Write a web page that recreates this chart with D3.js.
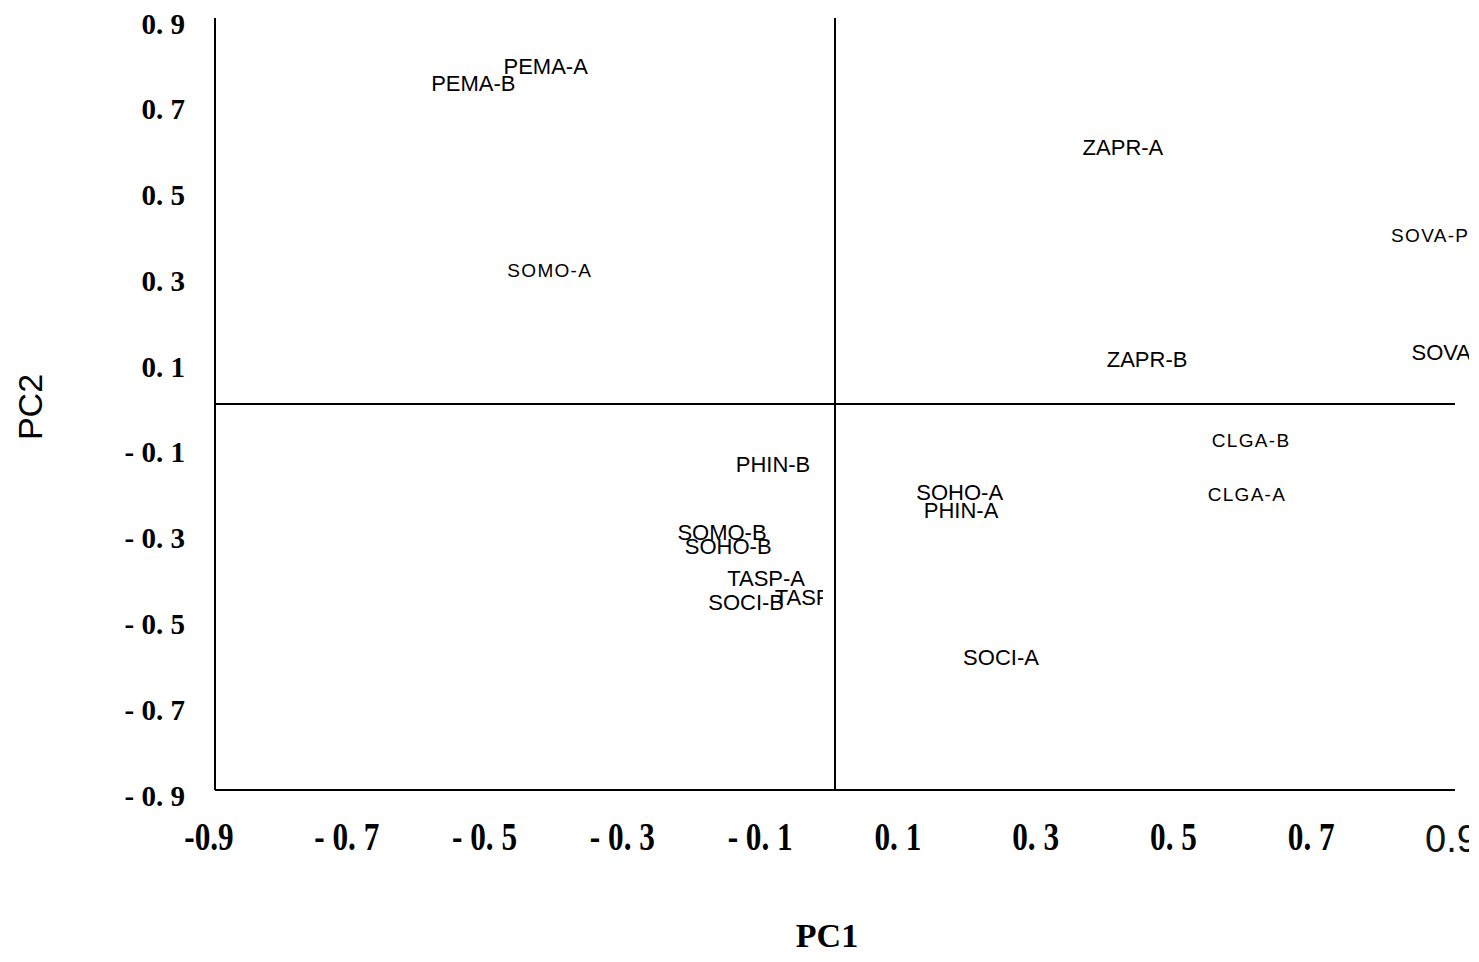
<!DOCTYPE html>
<html>
<head>
<meta charset="utf-8">
<script src="https://cdn.jsdelivr.net/npm/d3@7"></script>
<style>
  html, body { margin: 0; padding: 0; background: #fff; }
  svg { display: block; }
</style>
</head>
<body>
<script>
// PCA score plot: sample codes on PC1 / PC2
const sampleNames = ["PEMA-A", "PEMA-B", "ZAPR-A", "SOVA-P", "SOMO-A", "ZAPR-B", "SOVA-A",
  "CLGA-B", "CLGA-A", "PHIN-B", "SOHO-A", "PHIN-A", "SOMO-B", "SOHO-B",
  "TASP-A", "SOCI-B", "TASP-B", "SOCI-A"];
const pc1Scores = [-0.42, -0.525, 0.418, 0.864, -0.414, 0.453, 0.896,
  0.604, 0.598, -0.09, 0.181, 0.183, -0.164, -0.155,
  -0.10, -0.129, -0.031, 0.241];
const pc2Scores = [0.786, 0.748, 0.597, 0.392, 0.312, 0.103, 0.121,
  -0.084, -0.21, -0.14, -0.207, -0.249, -0.30, -0.333,
  -0.406, -0.462, -0.45, -0.592];

const xTicks = [-0.9, -0.7, -0.5, -0.3, -0.1, 0.1, 0.3, 0.5, 0.7, 0.9];
const xTickLabels = ["-0.9", "- 0. 7", "- 0. 5", "- 0. 3", "- 0. 1", "0. 1", "0. 3", "0. 5", "0. 7", "0.9"];
const yTicks = [0.9, 0.7, 0.5, 0.3, 0.1, -0.1, -0.3, -0.5, -0.7, -0.9];
const yTickLabels = ["0. 9", "0. 7", "0. 5", "0. 3", "0. 1", "- 0. 1", "- 0. 3", "- 0. 5", "- 0. 7", "- 0. 9"];

// labels set in the lighter, letter-spaced face
const spacedLabels = new Set(["SOVA-P", "SOMO-A", "CLGA-B", "CLGA-A"]);

const W = 1469, H = 962;
const svg = d3.select("body").append("svg").attr("width", W).attr("height", H);

const x = d3.scaleLinear().domain([-0.9, 0.9]).range([215, 1455]);
const y = d3.scaleLinear().domain([-0.9, 0.9]).range([790, 18]);

const serif = "'Liberation Serif', 'Times New Roman', serif";
const sans = "'Liberation Sans', Arial, sans-serif";

// frame lines: left and bottom edges plus the zero cross
const lineG = svg.append("g").attr("stroke", "#000").attr("stroke-width", 2);
lineG.append("line").attr("x1", x(-0.9)).attr("x2", x(-0.9)).attr("y1", y(0.9)).attr("y2", y(-0.9));
lineG.append("line").attr("x1", x(-0.9)).attr("x2", x(0.9)).attr("y1", y(-0.9)).attr("y2", y(-0.9));
lineG.append("line").attr("x1", x(0)).attr("x2", x(0)).attr("y1", y(0.9)).attr("y2", y(-0.9));
lineG.append("line").attr("x1", x(-0.9)).attr("x2", x(0.9)).attr("y1", y(0)).attr("y2", y(0));

// y axis tick labels
const yAxis = svg.append("g")
  .attr("transform", `translate(${x(-0.9)},0)`)
  .call(d3.axisLeft(y).tickValues(yTicks).tickSize(0)
    .tickFormat((d, i) => yTickLabels[i]));
yAxis.select(".domain").remove();
yAxis.selectAll("text")
  .attr("x", -30)
  .attr("dy", null)
  .attr("y", 15)
  .attr("fill", "#000")
  .style("font-family", serif)
  .style("font-weight", "bold")
  .style("font-size", "29px")
  .attr("text-anchor", "end");

// x axis tick labels
const xAxis = svg.append("g")
  .attr("transform", `translate(0,${y(-0.9)})`)
  .call(d3.axisBottom(x).tickValues(xTicks).tickSize(0)
    .tickFormat((d, i) => xTickLabels[i]));
xAxis.select(".domain").remove();
xAxis.selectAll(".tick").attr("transform", d => `translate(${x(d) - 6},0)`);
xAxis.selectAll("text")
  .attr("dy", null)
  .attr("y", 60)
  .attr("fill", "#000")
  .attr("text-anchor", "middle")
  .style("font-family", serif)
  .style("font-weight", "bold")
  .style("font-size", "40px")
  .attr("transform", "scale(0.78,1)");
xAxis.selectAll("text").filter((d, i) => i === xTicks.length - 1)
  .attr("transform", null)
  .attr("text-anchor", "start")
  .attr("x", -24)
  .attr("y", 62)
  .attr("fill", "#111")
  .style("font-family", sans)
  .style("font-weight", "normal")
  .style("font-size", "38px");

// axis titles
svg.append("text")
  .attr("x", 827).attr("y", 947)
  .attr("text-anchor", "middle")
  .style("font-family", serif).style("font-weight", "bold").style("font-size", "34px")
  .text("PC1");
svg.append("text")
  .attr("transform", `translate(42,${y(0) + 3}) rotate(-90)`)
  .attr("text-anchor", "middle")
  .style("font-family", sans).style("font-size", "34px")
  .text("PC2");

// clip for the label tucked against the vertical zero line
svg.append("defs").append("clipPath").attr("id", "nearZero")
  .append("rect").attr("x", 0).attr("y", 0).attr("width", x(0) - 12).attr("height", H);

// sample labels
const samples = sampleNames.map((n, i) => ({ name: n, pc1: pc1Scores[i], pc2: pc2Scores[i] }));
svg.append("g").selectAll("text")
  .data(samples)
  .join("text")
  .attr("x", d => x(d.pc1))
  .attr("y", d => y(d.pc2))
  .attr("text-anchor", "middle")
  .attr("dominant-baseline", "central")
  .attr("clip-path", d => d.name === "TASP-B" ? "url(#nearZero)" : null)
  .style("font-family", sans)
  .style("font-size", d => spacedLabels.has(d.name) ? "19px" : "22px")
  .style("letter-spacing", d => spacedLabels.has(d.name) ? "1.3px" : "0px")
  .attr("fill", "#000")
  .text(d => d.name);
</script>
</body>
</html>
